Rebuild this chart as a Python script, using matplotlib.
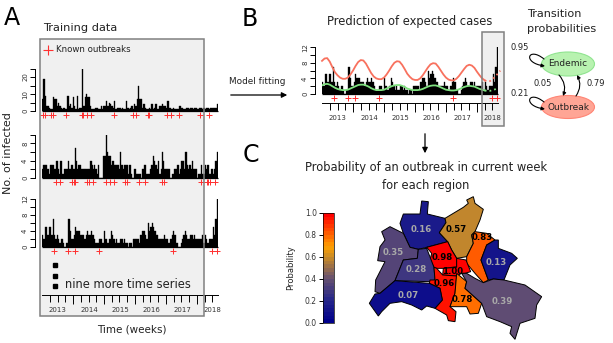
import numpy as np
import matplotlib
matplotlib.use('Agg')
import matplotlib.pyplot as plt
from matplotlib.colors import LinearSegmentedColormap, Normalize
from matplotlib.cm import ScalarMappable
from matplotlib.patches import Rectangle, Ellipse, Polygon, FancyArrowPatch
from matplotlib.path import Path

W, H = 613, 343

cases_1 = [7, 19, 9, 3, 3, 2, 1, 1, 8, 7, 7, 3, 5, 3, 2, 1, 2, 1, 1, 9, 3, 4, 2, 8, 3, 1, 9, 1, 2, 2, 28, 3, 8, 10, 8, 8,
           3, 1, 1, 1, 2, 2, 1, 1, 3, 1, 3, 3, 6, 3, 5, 4, 3, 2, 6, 1, 2, 2, 2, 1, 2, 1, 1, 6, 2, 1, 2, 3, 1, 4, 3, 7,
           15, 7, 7, 2, 4, 2, 1, 1, 2, 1, 4, 1, 2, 4, 1, 1, 3, 3, 4, 3, 3, 2, 6, 2, 2, 1, 2, 1, 1, 1, 1, 3, 2, 2, 1, 1,
           2, 2, 1, 2, 2, 1, 2, 2, 1, 1, 2, 2, 1, 2, 1, 2, 2, 1, 2, 2, 2, 2, 2, 4]
cases_2 = [2, 3, 3, 3, 2, 1, 3, 3, 3, 2, 2, 4, 2, 1, 4, 1, 1, 2, 2, 2, 4, 2, 3, 3, 2, 7, 4, 2, 3, 3, 2, 2, 2, 2, 2, 2,
           2, 4, 3, 2, 3, 2, 1, 3, 0, 0, 0, 5, 5, 11, 6, 5, 5, 3, 4, 3, 3, 3, 3, 2, 6, 3, 2, 3, 3, 3, 1, 3, 1, 0, 0, 2,
           1, 1, 1, 1, 0, 2, 3, 3, 1, 1, 1, 2, 3, 5, 4, 3, 2, 4, 1, 2, 6, 4, 2, 2, 2, 2, 0, 0, 1, 2, 2, 2, 3, 1, 2, 4,
           4, 2, 6, 3, 2, 3, 2, 4, 2, 2, 2, 0, 1, 1, 3, 1, 1, 3, 2, 3, 1, 1, 2, 1, 2, 4, 6]
cases_3 = [3, 2, 5, 5, 3, 5, 5, 3, 7, 3, 2, 3, 2, 1, 2, 2, 1, 0, 1, 1, 7, 4, 2, 2, 3, 5, 4, 4, 4, 3, 3, 3, 2, 3, 4, 3,
           3, 4, 3, 2, 1, 1, 1, 2, 2, 1, 1, 4, 2, 1, 1, 2, 4, 3, 2, 1, 2, 1, 1, 2, 2, 1, 2, 1, 1, 0, 1, 1, 0, 2, 2, 2,
           2, 1, 3, 3, 4, 4, 3, 2, 6, 4, 5, 6, 5, 4, 3, 3, 2, 2, 2, 2, 3, 2, 2, 1, 1, 2, 3, 4, 3, 1, 1, 0, 0, 1, 2, 3,
           4, 3, 2, 2, 3, 3, 2, 3, 2, 2, 2, 2, 2, 3, 1, 3, 2, 1, 2, 2, 2, 5, 3, 7, 12]

# weeks with a known outbreak
outbreaks_1 = [1, 5, 15, 18, 40, 67, 69, 76, 82, 121, 153, 157, 177, 180, 209, 216, 230, 265, 280]
outbreaks_2 = [23, 31, 50, 54, 56, 76, 79, 86, 108, 114, 121, 139, 143, 162, 172, 201, 204, 266, 276, 279, 281, 290]
outbreaks_3 = [20, 44, 56, 96, 219, 285, 294]

# monthly expected cases in panel B
epidemic_mean = [8.5, 9.1, 9.2, 8.3, 6.9, 5.6, 4.8, 4.2, 3.9, 3.9, 4.2, 5.0, 6.0, 7.2, 8.2, 8.7, 8.6, 7.8, 6.6, 5.4,
                 4.5, 4.0, 3.8, 3.8, 4.2, 5.0, 6.0, 7.1, 8.0, 8.4, 8.3, 7.5, 6.4, 5.2, 4.4, 3.8, 3.6, 3.6, 4.0, 4.8,
                 5.8, 6.8, 7.6, 7.9, 7.8, 7.0, 6.0, 5.0, 4.2, 3.7, 3.5, 3.5, 3.9, 4.6, 5.5, 6.4, 7.2, 7.5, 7.3, 6.7,
                 5.7, 4.8, 4.0, 3.5, 3.2, 3.3, 3.8, 4.4, 5.2, 6.0]
endemic_mean = [2.2, 2.5, 2.6, 2.4, 2.0, 1.6, 1.3, 1.1, 1.0, 1.0, 1.1, 1.4, 1.7, 2.0, 2.3, 2.4, 2.4, 2.2, 1.9, 1.5,
                1.2, 1.0, 1.0, 1.0, 1.1, 1.4, 1.7, 2.0, 2.2, 2.3, 2.3, 2.1, 1.8, 1.4, 1.2, 1.0, 1.0, 1.0, 1.1, 1.3,
                1.6, 1.9, 2.1, 2.2, 2.2, 2.0, 1.7, 1.4, 1.1, 1.0, 0.9, 0.9, 1.0, 1.2, 1.5, 1.8, 2.0, 2.1, 2.0, 1.9,
                1.6, 1.3, 1.1, 0.9, 0.8, 0.8, 1.0, 1.2, 1.5, 1.8]

years = ['2013', '2014', '2015', '2016', '2017', '2018']
year_centres = [26, 79, 131, 183, 235, 286]

# outbreak probability per district
prob_labels = [0.16, 0.57, 0.83, 0.35, 0.13, 0.98, 1.00, 0.28, 0.96, 0.07, 0.78, 0.39]
label_x = [425, 528, 607, 341, 650, 487, 517, 408, 492, 385, 548, 666]
label_y = [118, 118, 142, 188, 218, 203, 243, 240, 280, 315, 328, 335]

reinickendorf = [(425, 33), (445, 35), (442, 72), (495, 85), (498, 98), (478, 128), (503, 155), (440, 172), (415, 178),
                 (390, 172), (370, 130), (360, 100), (370, 72), (420, 72)]
pankow = [(495, 85), (550, 52), (565, 40), (560, 30), (580, 20), (585, 40), (610, 58), (600, 90), (585, 125), (575, 135),
          (580, 160), (560, 200), (530, 205), (515, 180), (503, 155), (478, 128), (498, 98)]
lichtenberg = [(585, 125), (620, 130), (645, 150), (620, 165), (603, 210), (625, 270), (610, 278), (585, 250), (560, 220),
               (560, 200), (580, 160), (575, 135)]
spandau = [(305, 125), (330, 110), (370, 130), (390, 172), (415, 178), (412, 205), (370, 210), (345, 272), (300, 310),
           (285, 305), (287, 270), (315, 215), (293, 212), (300, 170), (315, 150)]
marzahn = [(645, 150), (655, 150), (655, 175), (695, 190), (712, 205), (690, 225), (672, 270), (640, 267), (625, 270),
           (603, 210), (620, 165)]
mitte = [(440, 172), (503, 155), (515, 180), (530, 205), (530, 230), (495, 235), (470, 235), (462, 232), (450, 210), (455, 190)]
kreuzberg = [(530, 205), (558, 210), (572, 245), (555, 250), (545, 250), (530, 258), (488, 255), (490, 235), (530, 232)]
charlottenburg = [(415, 178), (440, 175), (462, 232), (465, 270), (448, 275), (345, 272), (370, 210), (412, 205)]
tempelhof = [(465, 270), (450, 270), (448, 280), (480, 295), (487, 330), (465, 355), (500, 375), (505, 392), (525, 395),
             (528, 365), (510, 350), (525, 310), (530, 258), (488, 255), (470, 235), (462, 232)]
steglitz = [(345, 272), (448, 280), (480, 295), (487, 330), (465, 355), (440, 348), (425, 360), (395, 345), (365, 335),
            (330, 340), (305, 365), (295, 378), (268, 340), (285, 312), (300, 310)]
neukoelln = [(530, 250), (560, 275), (555, 295), (605, 340), (595, 370), (570, 372), (560, 350), (510, 350), (525, 310)]
treptow = [(560, 250), (585, 265), (610, 278), (640, 267), (672, 270), (735, 285), (785, 320), (770, 345), (765, 385),
           (720, 400), (705, 448), (690, 430), (695, 410), (660, 395), (620, 380), (605, 340), (555, 295), (560, 275), (545, 250)]
districts = [reinickendorf, pankow, lichtenberg, spandau, marzahn, mitte, kreuzberg, charlottenburg, tempelhof, steglitz,
             neukoelln, treptow]

cmap = LinearSegmentedColormap.from_list('prob', [(0, '#00008b'), (0.2, '#26268a'), (0.4, '#665070'), (0.6, '#c88a28'),
                                                  (0.7, '#ffa000'), (0.8, '#ff6a00'), (1, '#ff0000')], N=30)

fig = plt.figure(figsize=(W / 100, H / 100), dpi=100)
px_wk = 31 / 52


def add_px_axes(x0, y0, x1, y1, **kw):
    return fig.add_axes([x0 / W, 1 - y1 / H, (x1 - x0) / W, (y1 - y0) / H], **kw)


bg = add_px_axes(0, 0, W, H, zorder=0)
bg.set_xlim(0, W)
bg.set_ylim(H, 0)
bg.axis('off')
bg.add_patch(Rectangle((40, 39), 164, 277, fc='#f0f0f0', ec='none'))
bg.add_patch(Rectangle((482, 32), 22, 94, fc='#f0f0f0', ec='none'))

fg = add_px_axes(0, 0, W, H, zorder=5)
fg.set_xlim(0, W)
fg.set_ylim(H, 0)
fg.axis('off')
fg.patch.set_alpha(0)
fg.add_patch(Rectangle((40, 39), 164, 277, fc='none', ec='#808080', lw=1.1))
fg.add_patch(Rectangle((482, 32), 22, 94, fc='none', ec='#808080', lw=1.1))


def strip(x0, base, per_unit, top, step, cases, outbreaks, labelled):
    ax = add_px_axes(x0, base - top * per_unit, x0 + 176, base, zorder=2)
    ax.patch.set_alpha(0)
    weeks = np.linspace(0, 295, len(cases), endpoint=False)
    ax.bar(weeks, cases, width=295 / len(cases), color='black', edgecolor='black', linewidth=0.25, align='edge')
    ax.plot([0, 295], [0, 0], color='black', lw=0.9, solid_capstyle='butt', clip_on=False)
    ax.plot(outbreaks, [-4 / per_unit] * len(outbreaks), '+', color='#ff3030', ms=5, mew=0.7, clip_on=False)
    ax.set_xlim(0, 176 / px_wk)
    ax.set_ylim(0, top)
    for s in ['top', 'right', 'bottom']:
        ax.spines[s].set_visible(False)
    ax.spines['left'].set_position(('outward', 5))
    ax.spines['left'].set_linewidth(0.7)
    ax.set_xticks([])
    ticks = np.arange(0, top + 0.1, step)
    ax.set_yticks(ticks)
    ax.set_yticklabels([('%d' % v if v in labelled else '') for v in ticks], rotation=90, va='center',
                       fontsize=5, color='#333333')
    ax.tick_params(axis='y', length=3.5, width=0.7, pad=1.5)
    return ax


def time_axis(x0, y):
    ax = add_px_axes(x0, y, x0 + 176, y + 1, zorder=2)
    ax.patch.set_alpha(0)
    ax.set_xlim(0, 176 / px_wk)
    ax.set_ylim(0, 1)
    for s in ['top', 'right', 'left']:
        ax.spines[s].set_visible(False)
    ax.spines['bottom'].set_position(('axes', 1))
    ax.spines['bottom'].set_linewidth(0.7)
    ax.set_yticks([])
    ax.set_xticks(np.arange(52, 295, 52))
    ax.set_xticks(np.arange(13, 295, 13), minor=True)
    ax.set_xticklabels([])
    ax.tick_params(axis='x', which='major', length=6.5, width=0.7)
    ax.tick_params(axis='x', which='minor', length=5, width=0.7)
    for yr, c in zip(years, year_centres):
        ax.text(c, -14, yr, fontsize=5, color='#333333', ha='center', va='center',
                transform=ax.get_xaxis_transform(), clip_on=False)


# panel A
strip(42, 111, 1.7, 25, 5, cases_1, outbreaks_1, [0, 10, 20])
strip(42, 178, 4.33, 10, 2, cases_2, outbreaks_2, [0, 4, 8])
strip(42, 247, 4, 12, 2, cases_3, outbreaks_3, [0, 4, 8, 12])
time_axis(42, 295)
fg.plot([47.5], [50], '+', color='#ff3030', ms=6.5, mew=0.8)
fg.text(55.5, 50, 'Known outbreaks', fontsize=6.2, va='center', color='#222222')
fg.plot([55, 55, 55], [265, 275.5, 286], 's', color='black', ms=2.2)
fg.text(65, 285, 'nine more time series', fontsize=8.3, va='center', color='#222222')
fg.text(131.5, 329, 'Time (weeks)', fontsize=7.5, ha='center', va='center', color='#222222')
fg.text(8, 153, 'No. of infected', fontsize=8, rotation=90, ha='center', va='center', color='#222222')
fg.text(43, 28, 'Training data', fontsize=8.2, va='center', color='#222222')

# panel B
ax_b = strip(322, 94, 3.9, 12, 2, cases_3, outbreaks_3, [0, 4, 8, 12])
months = np.arange(len(epidemic_mean)) * 52 / 12
n_fit = 64
ax_b.plot(months[:n_fit], epidemic_mean[:n_fit], color='#f8715e', lw=1.3, clip_on=False, zorder=3)
ax_b.plot(months[n_fit - 1:], epidemic_mean[n_fit - 1:], ':', color='#f8715e', lw=1.3, clip_on=False, zorder=3)
ax_b.plot(months[:n_fit], endemic_mean[:n_fit], color='#7fe07f', lw=1.3, zorder=3)
ax_b.plot(months[n_fit - 1:], endemic_mean[n_fit - 1:], ':', color='#7fe07f', lw=1.3, zorder=3)
time_axis(322, 103)
fg.text(410, 22, 'Prediction of expected cases', fontsize=8.3, ha='center', va='center', color='#222222')
fg.text(257, 81, 'Model fitting', fontsize=6.4, ha='center', va='center', color='#222222')
fg.annotate('', xy=(290, 95), xytext=(228, 95), arrowprops=dict(arrowstyle='-|>', color='black', lw=0.9, mutation_scale=8))
fg.annotate('', xy=(425, 156), xytext=(425, 131), arrowprops=dict(arrowstyle='-|>', color='black', lw=0.9, mutation_scale=8))

# transition diagram
fg.text(527, 14, 'Transition', fontsize=8.1, va='center', color='#222222')
fg.text(527, 29, 'probabilities', fontsize=8.1, va='center', color='#222222')
fg.add_patch(Ellipse((568, 64), 53, 24, fc='#b8f2b0', ec='#90e490', lw=0.8))
fg.add_patch(Ellipse((568, 107), 53, 23, fc='#ffa595', ec='#ff8575', lw=0.8))
fg.text(568, 64, 'Endemic', fontsize=6.5, ha='center', va='center', color='#222222')
fg.text(568, 107, 'Outbreak', fontsize=6.5, ha='center', va='center', color='#222222')
fg.text(520, 48, '0.95', fontsize=6, ha='center', va='center', color='#222222')
fg.text(543, 84, '0.05', fontsize=6, ha='center', va='center', color='#222222')
fg.text(596, 84, '0.79', fontsize=6, ha='center', va='center', color='#222222')
fg.text(520, 94, '0.21', fontsize=6, ha='center', va='center', color='#222222')
for off in [0, 43]:
    loop = Path([(544, 59 + off), (528, 46 + off), (522, 63 + off), (545, 66 + off)],
                [Path.MOVETO, Path.CURVE4, Path.CURVE4, Path.CURVE4])
    fg.add_patch(FancyArrowPatch(path=loop, arrowstyle='-|>', mutation_scale=5, color='black', lw=0.8))
fg.add_patch(FancyArrowPatch((559, 75), (563, 96), connectionstyle='arc3,rad=-0.3', arrowstyle='-|>', mutation_scale=5,
                             color='black', lw=0.8, shrinkA=0, shrinkB=0))
fg.add_patch(FancyArrowPatch((576, 96), (577, 75), connectionstyle='arc3,rad=0.3', arrowstyle='-|>', mutation_scale=5,
                             color='black', lw=0.8, shrinkA=0, shrinkB=0))

# panel C
fg.text(426, 167, 'Probability of an outbreak in current week', fontsize=8.3, ha='center', va='center', color='#222222')
fg.text(426, 186, 'for each region', fontsize=8.3, ha='center', va='center', color='#222222')
for letter, x, y in [('A', 12, 18), ('B', 250, 19), ('C', 251, 155)]:
    fg.text(x, y, letter, fontsize=17, ha='center', va='center', color='black')

cax = add_px_axes(323, 213, 334, 323, zorder=2)
cb = fig.colorbar(ScalarMappable(norm=Normalize(0, 1), cmap=cmap), cax=cax, ticks=np.arange(0, 1.01, 0.2))
cax.yaxis.set_ticks_position('left')
cax.set_yticklabels(['%.1f' % v for v in np.arange(0, 1.01, 0.2)], fontsize=5.5, color='#333333')
cax.tick_params(axis='y', length=3, width=0.7, pad=1.5)
cb.outline.set_linewidth(0.5)
fg.text(291, 268, 'Probability', fontsize=6, rotation=90, ha='center', va='center', color='#222222')

norm = Normalize(0, 1)
map_ax = add_px_axes(280, 190, 570, 343, zorder=3)
map_ax.set_xlim(0, 870)
map_ax.set_ylim(459, 0)
map_ax.axis('off')
map_ax.patch.set_alpha(0)
for poly, p in zip(districts, prob_labels):
    map_ax.add_patch(Polygon(poly, closed=True, fc=cmap(norm(p)), ec='black', lw=0.7))
for p, x, y in zip(prob_labels, label_x, label_y):
    if p < 0.5:
        map_ax.text(x, y, '%.2f' % p, fontsize=6.2, color='#a8a8a8', ha='center', va='center', weight='bold')
    else:
        map_ax.text(x, y, '%.2f' % p, fontsize=6.2, color='black', ha='center', va='center', weight='bold')

fig.savefig('out.png', dpi=100)
